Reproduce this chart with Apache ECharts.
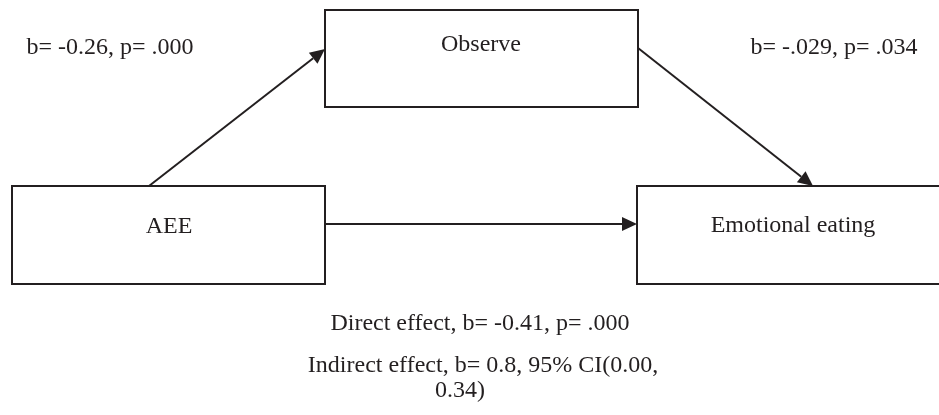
<!DOCTYPE html>
<html>
<head>
<meta charset="utf-8">
<script src="https://cdn.jsdelivr.net/npm/echarts@6/dist/echarts.min.js"></script>
<style>
html,body{margin:0;padding:0;background:#fff;}
#main{width:939px;height:415px;}
</style>
</head>
<body>
<div id="main"></div>
<script>
// variables in the mediation model
var nodeNames = ['AEE', 'Observe', 'Emotional eating'];
// paths: [from, to]
var pathPairs = [[0, 1], [1, 2], [0, 2]];
// coefficient texts
var pathLabels = ['b= -0.26, p= .000', 'b= -.029, p= .034'];
var directLabel = 'Direct effect, b= -0.41, p= .000';
var indirectLines = ['Indirect effect, b= 0.8, 95% CI(0.00,', '0.34)'];

// layout (pixel space of the picture)
var boxPos = [[12, 186, 325, 284], [325, 10, 638, 107], [637, 186, 960, 284]];
var nodeTextPos = [[169, 227], [481, 45], [793, 226]];
var arrowPos = [[[149, 186], [325, 49]], [[638, 48], [813, 186]], [[325, 224], [637, 224]]];
var notePos = [[110, 48], [834, 48], [480, 324], [483, 366], [460, 391]];

var ink = '#231f20';
var font = '"Liberation Serif", "Times New Roman", serif';
var fontSize = 24;

var notes = pathLabels.concat([directLabel]).concat(indirectLines);

var chart = echarts.init(document.getElementById('main'));
var option = {
    backgroundColor: '#fff',
    animation: false,
    grid: {left: 0, right: 0, top: 0, bottom: 0},
    xAxis: {type: 'value', min: 0, max: 939, show: false},
    yAxis: {type: 'value', min: 0, max: 415, inverse: true, show: false},
    series: [
        {
            // arrows
            type: 'custom',
            clip: false,
            data: pathPairs.map(function (p, i) { return [i, p[0], p[1]]; }),
            renderItem: function (params, api) {
                var i = api.value(0);
                var a = api.coord(arrowPos[i][0]);
                var b = api.coord(arrowPos[i][1]);
                var dx = b[0] - a[0], dy = b[1] - a[1];
                var len = Math.sqrt(dx * dx + dy * dy);
                var ux = dx / len, uy = dy / len;
                var hl = 15, hw = 7;
                var bx = b[0] - ux * hl, by = b[1] - uy * hl;
                return {
                    type: 'group',
                    children: [
                        {
                            type: 'line',
                            shape: {x1: a[0], y1: a[1], x2: bx, y2: by},
                            style: {stroke: ink, lineWidth: 2}
                        },
                        {
                            type: 'polygon',
                            shape: {points: [[b[0], b[1]], [bx - uy * hw, by + ux * hw], [bx + uy * hw, by - ux * hw]]},
                            style: {fill: ink}
                        }
                    ]
                };
            }
        },
        {
            // boxes
            type: 'custom',
            clip: false,
            data: nodeNames.map(function (n, i) { return [i, 0]; }),
            renderItem: function (params, api) {
                var i = api.value(0);
                var b = boxPos[i];
                var p0 = api.coord([b[0], b[1]]);
                var p1 = api.coord([b[2], b[3]]);
                var t = api.coord(nodeTextPos[i]);
                return {
                    type: 'group',
                    children: [
                        {
                            type: 'rect',
                            shape: {x: p0[0], y: p0[1], width: p1[0] - p0[0], height: p1[1] - p0[1]},
                            style: {fill: '#fff', stroke: ink, lineWidth: 2}
                        },
                        {
                            type: 'text',
                            x: t[0], y: t[1],
                            style: {text: nodeNames[i], fill: ink, font: fontSize + 'px ' + font, textAlign: 'center', textVerticalAlign: 'middle'}
                        }
                    ]
                };
            }
        },
        {
            // coefficient texts
            type: 'custom',
            clip: false,
            data: notes.map(function (n, i) { return [i, 0]; }),
            renderItem: function (params, api) {
                var i = api.value(0);
                var t = api.coord(notePos[i]);
                return {
                    type: 'text',
                    x: t[0], y: t[1],
                    style: {text: notes[i], fill: ink, font: fontSize + 'px ' + font, textAlign: 'center', textVerticalAlign: 'middle'}
                };
            }
        }
    ]
};
chart.setOption(option);
</script>
</body>
</html>
